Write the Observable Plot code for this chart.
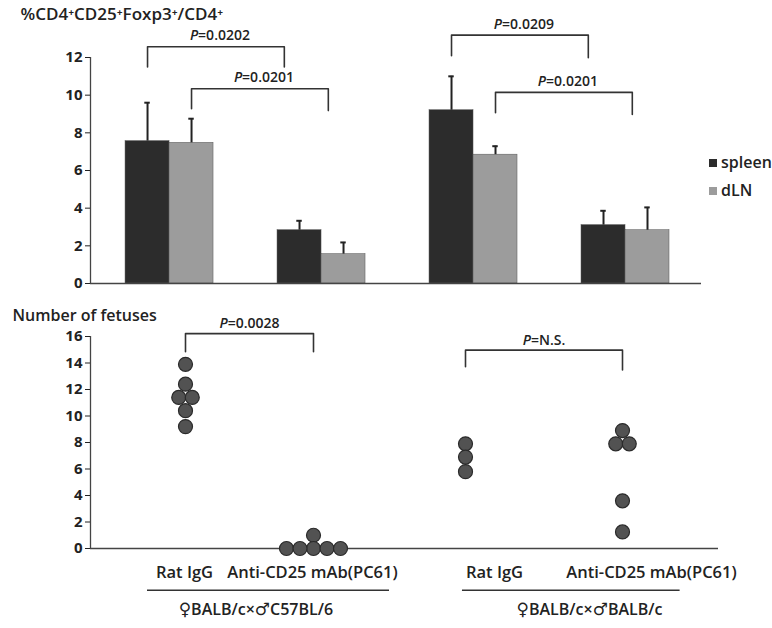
<!DOCTYPE html>
<html><head><meta charset="utf-8">
<script src="https://cdn.jsdelivr.net/npm/d3@7"></script>
<script src="https://cdn.jsdelivr.net/npm/@observablehq/plot@0.6"></script>
<style>
body{margin:0;background:#fff;font-family:"Open Sans",sans-serif;}
#wrap{position:relative;width:772px;height:628px;overflow:hidden;}
#top,#bottom{position:absolute;left:0;}
#top{top:0}
#bottom{top:300px}
.legend{position:absolute;left:709px;top:148px;font:600 16px "Open Sans",sans-serif;color:#222;line-height:28px}
.sw{display:inline-block;width:8px;height:8px;margin-right:4px;vertical-align:middle;position:relative;top:-1px}
</style></head><body>
<div id="wrap"><div id="top"></div><div id="bottom"></div><div class="legend" id="legend"></div></div>
<script>
// ---------- data: top panel ----------
const yTitleTop = "%CD4\u207ACD25\u207AFoxp3\u207A/CD4\u207A";
const tissues = ["spleen", "dLN"];
const tissueColors = ["#2c2c2c", "#9c9c9c"];
const spleenMean = [7.56, 2.83, 9.2, 3.1];
const spleenSD   = [2.04, 0.5, 1.8, 0.76];
const dlnMean    = [7.47, 1.56, 6.84, 2.83];
const dlnSD      = [1.28, 0.62, 0.45, 1.21];
const topTicks = [0, 2, 4, 6, 8, 10, 12];
const topBracketLabels = ["P=0.0202", "P=0.0201", "P=0.0209", "P=0.0201"];
const topBracketFrom = [[0, "spleen"], [0, "dLN"], [2, "spleen"], [2, "dLN"]];
const topBracketTo   = [[1, "spleen"], [1, "dLN"], [3, "spleen"], [3, "dLN"]];
const topBracketTop  = [12.57, 10.34, 13.19, 10.15];
const topBracketLegs = [[11.5, 11.5], [9.28, 9.18], [12.09, 11.99], [9.07, 8.97]];

// ---------- data: bottom panel ----------
const yTitleBottom = "Number of fetuses";
const treatments = ["Rat IgG", "Anti-CD25 mAb(PC61)", "Rat IgG", "Anti-CD25 mAb(PC61)"];
const strains = ["\u2640BALB/c\u00D7\u2642C57BL/6", "\u2640BALB/c\u00D7\u2642BALB/c"];
const fetusRatC57   = [13.9, 12.4, 11.4, 11.4, 10.4, 9.2];
const fetusAntiC57  = [1, 0, 0, 0, 0, 0];
const fetusRatBALB  = [7.9, 6.9, 5.8];
const fetusAntiBALB = [8.9, 7.9, 7.9, 3.6, 1.25];
const bottomTicks = [0, 2, 4, 6, 8, 10, 12, 14, 16];
const bottomBracketLabels = ["P=0.0028", "P=N.S."];
const bottomBracketFrom = [0, 2];
const bottomBracketTo = [1, 3];
const bottomBracketTop = [16.22, 14.97];
const bottomBracketLegs = [[14.85, 14.85], [13.72, 13.47]];
const strainSpans = [[-0.4, 1.5], [1.98, 3.6]];

// ---------- build tables ----------
const half = 44 / 152;
const bars = [];
[0, 1, 2, 3].forEach(i => {
  bars.push({g: i, tissue: "spleen", mean: spleenMean[i], sd: spleenSD[i]});
  bars.push({g: i, tissue: "dLN", mean: dlnMean[i], sd: dlnSD[i]});
});
const barX1 = d => d.g + (d.tissue === "spleen" ? -half : 0);
const barX2 = d => d.g + (d.tissue === "spleen" ? 0 : half);
const center = (g, t) => g + (t === "spleen" ? -half / 2 : half / 2);
const barC = d => center(d.g, d.tissue);
const capW = 0.018;
const rightShift = 0.1;

const topBracketPts = [], topBracketText = [];
topBracketLabels.forEach((lab, k) => {
  const xl = center(...topBracketFrom[k]);
  const xr = center(...topBracketTo[k]) - rightShift;
  const [l1, l2] = topBracketLegs[k];
  const t = topBracketTop[k];
  topBracketPts.push({k, x: xl, y: l1}, {k, x: xl, y: t}, {k, x: xr, y: t}, {k, x: xr, y: l2});
  topBracketText.push({label: lab, x: (xl + xr) / 2, y: t});
});

const fetusSets = [fetusRatC57, fetusAntiC57, fetusRatBALB, fetusAntiBALB];
const dots = [];
fetusSets.forEach((vals, g) => {
  const counts = d3.rollup(vals, v => v.length, v => v);
  const seen = new Map();
  vals.forEach(v => {
    const n = counts.get(v);
    const k = seen.get(v) || 0;
    seen.set(v, k + 1);
    dots.push({g, value: v, rank: k - (n - 1) / 2});
  });
});
const ranks = Array.from(new Set(dots.map(d => d.rank)));

const bottomBracketPts = [], bottomBracketText = [];
bottomBracketLabels.forEach((lab, k) => {
  const xl = bottomBracketFrom[k], xr = bottomBracketTo[k];
  const [l1, l2] = bottomBracketLegs[k];
  const t = bottomBracketTop[k];
  bottomBracketPts.push({k, x: xl, y: l1}, {k, x: xl, y: t}, {k, x: xr, y: t}, {k, x: xr, y: l2});
  bottomBracketText.push({label: lab, x: (xl + xr) / 2, y: t});
});
const catLabels = treatments.map((t, i) => ({label: t, g: i, strain: i < 2 ? 0 : 1}));
const strainRows = strains.map((s, i) => ({label: s, x1: strainSpans[i][0], x2: strainSpans[i][1]}));

const ink = "#222";
const lineInk = "#444";
const font = "'Open Sans', sans-serif";

// ---------- top chart ----------
const topPlot = Plot.plot({
  width: 772, height: 300,
  marginLeft: 90, marginRight: 71, marginTop: 57, marginBottom: 17,
  style: {fontFamily: font, background: "transparent", overflow: "visible"},
  x: {domain: [-0.52, 3.5], axis: null},
  y: {domain: [0, 12], label: null},
  color: {domain: tissues, range: tissueColors},
  marks: [
    Plot.rectY(bars, {x1: barX1, x2: barX2, y1: 0, y2: "mean", fill: "tissue", stroke: "#555", strokeWidth: 0.5}),
    Plot.ruleX(bars, {x: barC, y1: "mean", y2: d => d.mean + d.sd, stroke: ink, strokeWidth: 2}),
    Plot.ruleY(bars, {y: d => d.mean + d.sd, x1: d => barC(d) - capW, x2: d => barC(d) + capW, stroke: ink, strokeWidth: 2}),
    Plot.ruleY([0], {stroke: lineInk, strokeWidth: 1.3}),
    Plot.ruleX([-0.52], {y1: 0, y2: 12, stroke: lineInk, strokeWidth: 1.3}),
    Plot.axisY({ticks: topTicks, tickSize: 5, tickPadding: 3, fontSize: 15, fontWeight: 700, color: ink, label: null}),
    Plot.line(topBracketPts, {x: "x", y: "y", z: "k", stroke: "#333", strokeWidth: 1.6}),
    Plot.text(topBracketText, {x: "x", y: "y", text: "label", dx: 4, dy: -11, fontSize: 14, fontWeight: 600, fill: ink}),
    Plot.text([yTitleTop], {frameAnchor: "top-left", lineAnchor: "middle", dx: -70, dy: -43, textAnchor: "start", fontSize: 17, fontWeight: 600, fill: ink})
  ]
});
document.getElementById("top").appendChild(topPlot);

// ---------- bottom chart ----------
const dotMarks = ranks.map(r => Plot.dot(dots.filter(d => d.rank === r), {
  x: "g", y: "value", r: 7, dx: r * 13.5, fill: "#525252", stroke: "#2a2a2a", strokeWidth: 1.2
}));
const bottomPlot = Plot.plot({
  width: 772, height: 328,
  marginLeft: 90, marginRight: 54, marginTop: 36, marginBottom: 80,
  style: {fontFamily: font, background: "transparent", overflow: "visible"},
  x: {type: "linear", domain: [-1, 0, 1, 2, 3, 4], range: [90, 185, 313, 465, 622, 718], axis: null},
  y: {domain: [0, 16], label: null},
  marks: [
    Plot.ruleY([0], {stroke: lineInk, strokeWidth: 1.3}),
    Plot.ruleX([-1], {y1: 0, y2: 16, stroke: lineInk, strokeWidth: 1.3}),
    Plot.axisY({ticks: bottomTicks, tickSize: 5, tickPadding: 3, fontSize: 15, fontWeight: 700, color: ink, label: null}),
    ...dotMarks,
    Plot.line(bottomBracketPts, {x: "x", y: "y", z: "k", stroke: "#333", strokeWidth: 1.6}),
    Plot.text(bottomBracketText, {x: "x", y: "y", text: "label", dy: -10, fontSize: 14, fontWeight: 600, fill: ink}),
    Plot.text(catLabels.filter(d => d.strain === 0), {x: "g", text: "label", frameAnchor: "bottom", lineAnchor: "middle", dx: -1, dy: 24, fontSize: 16.5, fontWeight: 600, fill: ink}),
    Plot.text(catLabels.filter(d => d.strain === 1), {x: "g", text: "label", frameAnchor: "bottom", lineAnchor: "middle", dx: 29, dy: 24, fontSize: 16.5, fontWeight: 600, fill: ink}),
    Plot.ruleY(strainRows, {y: -3.15, x1: "x1", x2: "x2", stroke: "#333", strokeWidth: 1.6}),
    Plot.text(strainRows, {x: d => (d.x1 + d.x2) / 2, text: "label", frameAnchor: "bottom", lineAnchor: "middle", dy: 61, fontSize: 16, fontWeight: 600, fill: ink}),
    Plot.text([yTitleBottom], {frameAnchor: "top-left", lineAnchor: "middle", dx: -78, dy: -21, textAnchor: "start", fontSize: 16, fontWeight: 600, fill: ink})
  ]
});
document.getElementById("bottom").appendChild(bottomPlot);

// italic P in p-value labels; larger sex symbols
const ns = "http://www.w3.org/2000/svg";
document.querySelectorAll("svg text").forEach(t => {
  if (t.children.length !== 0) return;
  const s = t.textContent;
  if (s.startsWith("P=")) {
    t.textContent = "";
    const a = document.createElementNS(ns, "tspan");
    a.setAttribute("font-style", "italic");
    a.textContent = "P";
    t.appendChild(a);
    t.appendChild(document.createTextNode(s.slice(1)));
  } else if (/[\u2640\u2642]/.test(s)) {
    t.textContent = "";
    s.split(/([\u2640\u2642])/).filter(p => p).forEach(p => {
      if (p === "\u2640" || p === "\u2642") {
        const a = document.createElementNS(ns, "tspan");
        a.setAttribute("font-family", "'DejaVu Sans', sans-serif");
        a.setAttribute("font-size", "17");
        a.setAttribute("font-weight", "normal");
        a.textContent = p;
        t.appendChild(a);
      } else {
        t.appendChild(document.createTextNode(p));
      }
    });
  }
});

// legend
const leg = document.getElementById("legend");
tissues.forEach((t, i) => {
  const row = document.createElement("div");
  row.innerHTML = `<span class="sw" style="background:${tissueColors[i]}"></span>${t}`;
  leg.appendChild(row);
});
</script>
</body></html>
